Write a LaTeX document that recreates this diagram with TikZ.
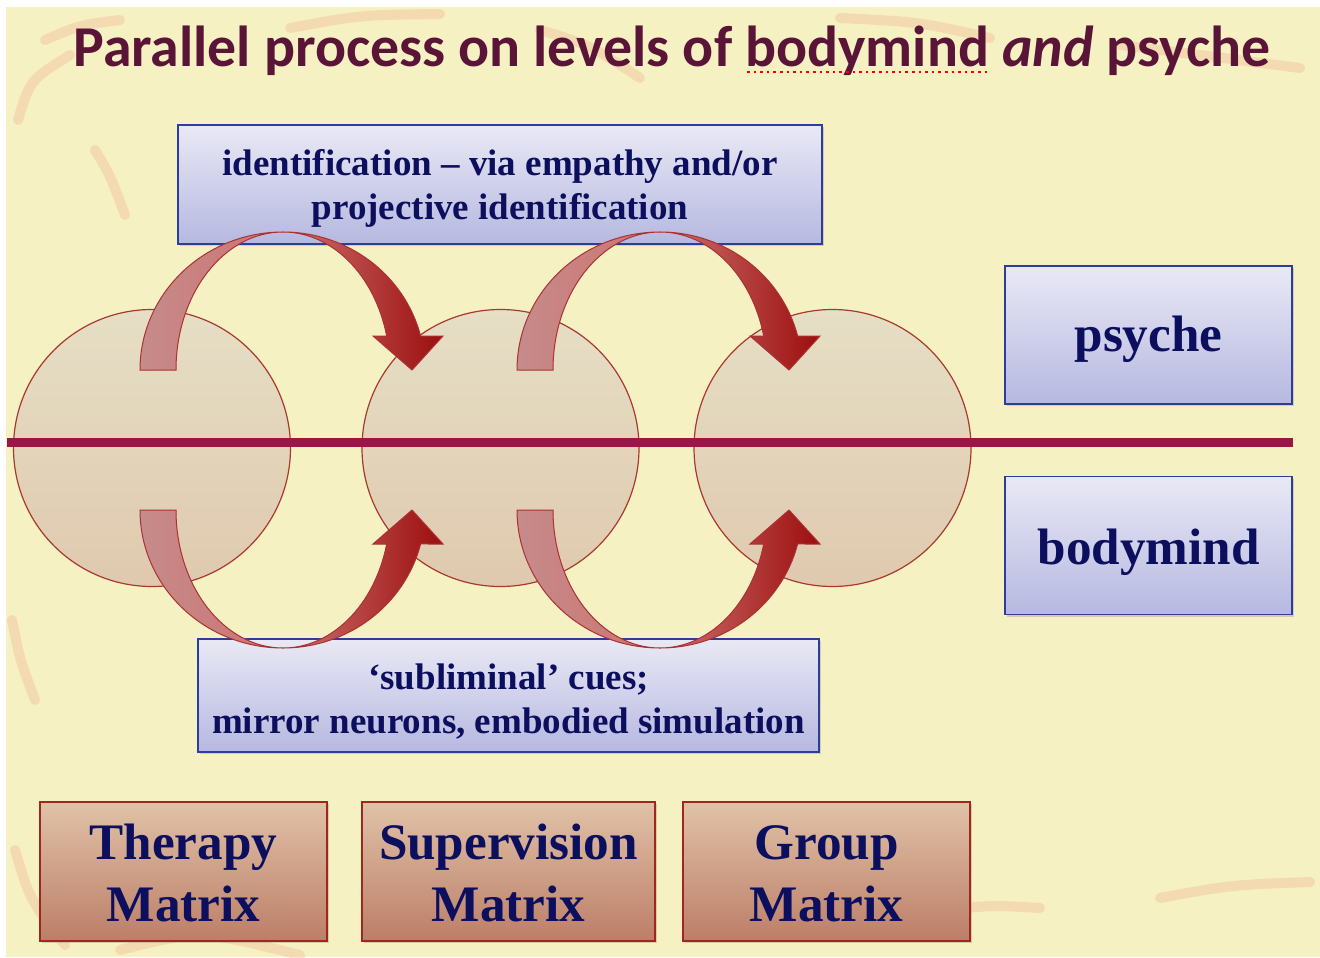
\documentclass[tikz,border=0pt]{standalone}
\usepackage{fontspec}
\setmainfont{Liberation Serif}
\newfontfamily\titlefont{Carlito}
\usetikzlibrary{positioning,shadows}

\definecolor{slidebg}{HTML}{F5F1C2}
\definecolor{titlered}{HTML}{5A1437}
\definecolor{navy}{HTML}{0C0F5E}
\definecolor{dividerred}{HTML}{9B1548}
\definecolor{balltop}{HTML}{E4DCC6}
\definecolor{ballbot}{HTML}{DCC3AC}
\definecolor{ballrim}{HTML}{A8392C}
\definecolor{lilactop}{HTML}{E9E9F5}
\definecolor{lilacbot}{HTML}{B6B8E0}
\definecolor{lilacrim}{HTML}{2E3C9E}
\definecolor{claytop}{HTML}{E0C2A7}
\definecolor{claybot}{HTML}{BC7E68}
\definecolor{clayrim}{HTML}{A3251F}
\definecolor{ribbonlight}{HTML}{C68B8B}
\definecolor{ribbonmid}{HTML}{C45A56}
\definecolor{ribbondark}{HTML}{9C0E0E}
\definecolor{brush}{HTML}{F0A88C}

\tikzset{
  curvedarrow/.pic={
    % back half of the ribbon
    \path[ribbonback] (-143,0)
      arc[start angle=180, end angle=270, x radius=143, y radius=138]
      arc[start angle=270, end angle=180, x radius=107, y radius=138] -- cycle;
    % front half with the head
    \path[ribbonfront] (0,-138)
      arc[start angle=270, end angle=345.74, x radius=142, y radius=138]
      -- (160,-34) -- (129,0) -- (90,-34) -- (103.7,-34)
      arc[start angle=345.74, end angle=270, x radius=107, y radius=138] -- cycle;
  }
}

\begin{document}
\begin{tikzpicture}[x=0.5pt, y=-0.5pt,
    ball/.style={circle, draw=ballrim, line width=0.6pt, top color=balltop, bottom color=ballbot, fill opacity=0.85, minimum size=138.5pt, inner sep=0pt},
    lilacbox/.style={rectangle, draw=lilacrim, line width=0.7pt, top color=lilactop, bottom color=lilacbot, align=center, text=navy, inner sep=0pt, drop shadow={opacity=0.3, shadow xshift=1.2pt, shadow yshift=-1.2pt}},
    levelbox/.style={lilacbox, minimum width=143.5pt, minimum height=69pt, font=\bfseries\fontsize{25.6}{31}\selectfont},
    claybox/.style={rectangle, draw=clayrim, line width=0.7pt, top color=claytop, bottom color=claybot, align=center, text=navy, inner sep=0pt, minimum height=69.5pt, drop shadow={opacity=0.3, shadow xshift=1.2pt, shadow yshift=-1.2pt}, font=\bfseries\fontsize{25.6}{31}\selectfont},
    ribbonback/.style={draw=ribbondark!85, line width=0.5pt, left color=ribbonlight, right color=ribbonmid!85},
    ribbonfront/.style={draw=ribbondark!85, line width=0.5pt, left color=ribbonmid!85, right color=ribbondark},
    divider/.style={dividerred, line width=4.5pt},
    stroke/.style={brush, line width=5pt, line cap=round, opacity=0.3}
  ]
  \useasboundingbox (0,0) rectangle (1320,957);
  \fill[slidebg] (6,7) rectangle (1320,957);

  % faint brush strokes on the slide background
  \draw[stroke] (18,120) .. controls (30,80) .. (70,55);
  \draw[stroke] (45,40) .. controls (80,25) .. (120,20);
  \draw[stroke] (95,150) .. controls (110,175) .. (125,215);
  \draw[stroke] (290,28) .. controls (360,15) .. (440,14);
  \draw[stroke] (540,30) .. controls (590,45) .. (640,78);
  \draw[stroke] (840,18) .. controls (920,22) .. (990,38);
  \draw[stroke] (1120,45) .. controls (1200,55) .. (1300,68);
  \draw[stroke] (12,620) .. controls (20,660) .. (35,700);
  \draw[stroke] (15,850) .. controls (30,900) .. (65,945);
  \draw[stroke] (120,950) .. controls (200,930) .. (300,955);
  \draw[stroke] (930,912) .. controls (990,905) .. (1040,908);
  \draw[stroke] (1160,898) .. controls (1230,885) .. (1310,882);

  % title
  \node[anchor=base, text=titlered, font=\titlefont\bfseries\fontsize{28.9}{34}\selectfont] (title) at (672,67)
    {Parallel process on levels of bodymind \textit{and} psyche};
  \draw[red, dotted, line width=1.3pt] (747,72) -- (988,72);

  % three matrices as circles
  \node[ball] (therapy) at (152,448) {};
  \node[ball] (supervision) at (500.5,448) {};
  \node[ball] (group) at (832.5,448) {};

  % levels on the right
  \node[levelbox] (psyche) at (1148.5,335) {\rule{0pt}{22.5pt}psyche};
  \node[levelbox] (bodymind) at (1148.5,545.5) {\rule{0pt}{24.5pt}bodymind};

  % dividing line between the levels
  \coordinate (lineL) at (7,442);
  \draw[divider] (lineL) -- (lineL -| psyche.east);

  % labels above and below
  \node[lilacbox, minimum width=322pt, minimum height=59.5pt, font=\bfseries\fontsize{18.5}{22}\selectfont] (upper) at (500,184.5)
    {\rule{0pt}{16.8pt}identification -- via empathy and/or\\projective identification};
  \node[lilacbox, minimum width=310.5pt, minimum height=56.5pt, font=\bfseries\fontsize{18.5}{22}\selectfont] (lower) at (508.5,695.5)
    {\rule{0pt}{18.7pt}‘subliminal’ cues;\\mirror neurons, embodied simulation};

  % curved arrows, psyche level and bodymind level
  \pic at (283,370) {curvedarrow};
  \pic at (660,370) {curvedarrow};
  \pic[yscale=-1] at (283,510) {curvedarrow};
  \pic[yscale=-1] at (660,510) {curvedarrow};

  % matrix labels
  \node[claybox, minimum width=143.5pt] (therapyM) at (183.5,871.5) {\rule{0pt}{19.5pt}Therapy\\Matrix};
  \node[claybox, minimum width=146.5pt] (supervisionM) at (508.5,871.5) {\rule{0pt}{19.6pt}Supervision\\Matrix};
  \node[claybox, minimum width=143.5pt] (groupM) at (826.5,871.5) {\rule{0pt}{19.6pt}Group\\Matrix};
\end{tikzpicture}
\end{document}
